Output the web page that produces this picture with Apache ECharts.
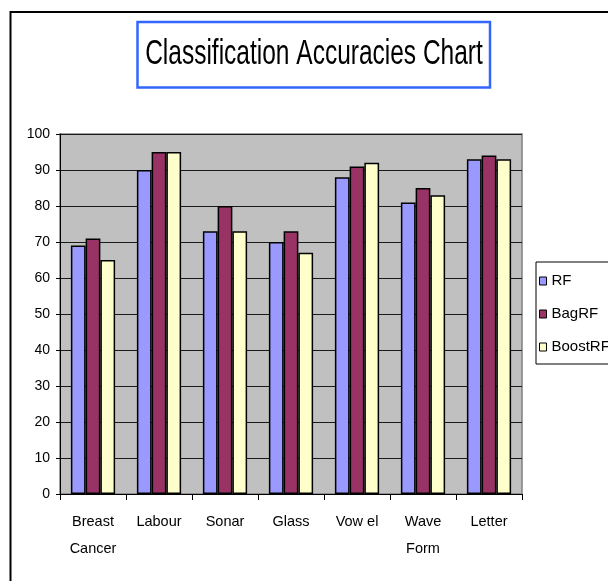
<!DOCTYPE html>
<html>
<head>
<meta charset="utf-8">
<style>
  html, body { margin: 0; padding: 0; background: #fff; }
  #chart { width: 608px; height: 581px; }
</style>
<script src="https://cdn.jsdelivr.net/npm/echarts@6/dist/echarts.min.js"></script>
</head>
<body>
<div id="chart"></div>
<script>
// Datasets on the category axis
const categories = ['Breast\nCancer', 'Labour', 'Sonar', 'Glass', 'Vow el', 'Wave\nForm', 'Letter'];

// Accuracy (%) per classifier
const rfValues      = [69, 90, 73, 70, 88, 81, 93];
const bagRfValues   = [71, 95, 80, 73, 91, 85, 94];
const boostRfValues = [65, 95, 73, 67, 92, 83, 93];

// Value axis range
const yMin = 0;
const yMax = 100;
const yStep = 10;

const seriesNames = ['RF', 'BagRF', 'BoostRF'];
const seriesColors = ['#9999FF', '#993366', '#FFFFCC'];
const seriesValues = [rfValues, bagRfValues, boostRfValues];

const labelFont = '"Liberation Sans", Arial, sans-serif';

const chart = echarts.init(document.getElementById('chart'), null, { renderer: 'canvas' });

chart.setOption({
  backgroundColor: '#ffffff',
  animation: false,
  graphic: [
    {
      type: 'rect',
      silent: true,
      z: -10,
      shape: { x: 10.5, y: 12, width: 660, height: 640 },
      style: { fill: null, stroke: '#000000', lineWidth: 2 }
    },
    {
      type: 'rect',
      silent: true,
      shape: { x: 137.5, y: 22, width: 352.5, height: 65.5 },
      style: { fill: '#ffffff', stroke: '#3366FF', lineWidth: 2.5 }
    },
    {
      // condensed title: regular face squeezed horizontally
      type: 'text',
      silent: true,
      x: 314,
      y: 54,
      scaleX: 0.7,
      style: {
        text: 'Classification Accuracies Chart',
        font: '35px ' + labelFont,
        fill: '#000000',
        align: 'center',
        verticalAlign: 'middle'
      }
    }
  ],
  legend: {
    orient: 'vertical',
    left: 536,
    top: 262,
    padding: [9, 30, 7, 3],
    itemGap: 13,
    itemWidth: 7,
    itemHeight: 8,
    icon: 'rect',
    borderColor: '#000000',
    borderWidth: 1,
    backgroundColor: '#ffffff',
    itemStyle: { borderColor: '#000000', borderWidth: 1 },
    textStyle: {
      fontFamily: labelFont,
      fontSize: 15,
      lineHeight: 20,
      color: '#000000'
    },
    data: seriesNames
  },
  grid: {
    left: 60,
    top: 134,
    right: 86,
    bottom: 87,
    show: true,
    backgroundColor: '#C0C0C0',
    borderColor: '#808080',
    borderWidth: 1.5,
    containLabel: false
  },
  xAxis: {
    type: 'category',
    data: categories,
    boundaryGap: true,
    axisLine: { show: true, lineStyle: { color: '#000000', width: 1 } },
    axisTick: { show: true, alignWithLabel: false, length: 6, lineStyle: { color: '#000000' } },
    axisLabel: {
      interval: 0,
      margin: 14,
      fontFamily: labelFont,
      fontSize: 14.5,
      lineHeight: 27,
      color: '#000000'
    },
    splitLine: { show: false }
  },
  yAxis: {
    type: 'value',
    min: yMin,
    max: yMax,
    interval: yStep,
    axisLine: { show: true, lineStyle: { color: '#000000', width: 1 } },
    axisTick: { show: true, length: 4, lineStyle: { color: '#000000' } },
    axisLabel: {
      margin: 10,
      fontFamily: labelFont,
      fontSize: 14,
      color: '#000000'
    },
    splitLine: { show: true, lineStyle: { color: '#1a1a1a', width: 1 } }
  },
  series: seriesNames.map((name, i) => ({
    name: name,
    type: 'bar',
    data: seriesValues[i],
    barGap: '0%',
    barCategoryGap: '33%',
    itemStyle: {
      color: seriesColors[i],
      borderColor: '#000000',
      borderWidth: 1.5
    }
  }))
});
</script>
</body>
</html>
